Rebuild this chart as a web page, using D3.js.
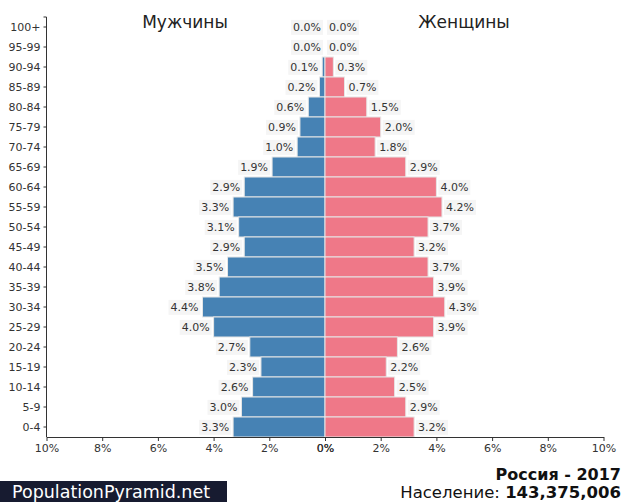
<!DOCTYPE html>
<html><head><meta charset="utf-8">
<script src="https://cdn.jsdelivr.net/npm/d3@7"></script>
<style>
body{margin:0;background:#fff;}
svg{display:block;font-family:"DejaVu Sans",sans-serif;}
</style></head>
<body>
<script>
const ageGroups = ["100+","95-99","90-94","85-89","80-84","75-79","70-74","65-69","60-64","55-59","50-54","45-49","40-44","35-39","30-34","25-29","20-24","15-19","10-14","5-9","0-4"];
const male =   [0.0,0.0,0.1,0.2,0.6,0.9,1.0,1.9,2.9,3.3,3.1,2.9,3.5,3.8,4.4,4.0,2.7,2.3,2.6,3.0,3.3];
const female = [0.0,0.0,0.3,0.7,1.5,2.0,1.8,2.9,4.0,4.2,3.7,3.2,3.7,3.9,4.3,3.9,2.6,2.2,2.5,2.9,3.2];
const xTicks = [10,8,6,4,2,0];
const titleMale = "Мужчины", titleFemale = "Женщины";
const country = "Россия - 2017";
const popLabel = "Население: ", popValue = "143,375,006";
const brand = "PopulationPyramid.net";

(function(){
const W = 624, H = 502;
const svg = d3.select("body").append("svg").attr("width", W).attr("height", H);

const cx = 325, pLeft = 46.5, pRight = 603.5, pTop = 17, pBottom = 437;
const xL = d3.scaleLinear().domain([10,0]).range([pLeft,cx]);
const xR = d3.scaleLinear().domain([0,10]).range([cx,pRight]);
const y = d3.scaleBand().domain(ageGroups).range([pTop,pBottom]).padding(0);

const mal = male.map((v,i)=>({age:ageGroups[i],v}));
const fem = female.map((v,i)=>({age:ageGroups[i],v}));

svg.append("g").selectAll("rect").data(mal).join("rect")
  .attr("x", d=>xL(d.v)).attr("width", d=>cx-xL(d.v))
  .attr("y", d=>y(d.age)).attr("height", y.bandwidth())
  .attr("fill","#4682b4").attr("stroke","#e6e6e6").attr("stroke-width",1);
svg.append("g").selectAll("rect").data(fem).join("rect")
  .attr("x", cx).attr("width", d=>xR(d.v)-cx)
  .attr("y", d=>y(d.age)).attr("height", y.bandwidth())
  .attr("fill","#ef7888").attr("stroke","#e6e6e6").attr("stroke-width",1);

function labels(data, scale, side){
  const g = svg.append("g").attr("font-size",11);
  data.forEach(d=>{
    const t = d.v.toFixed(1)+"%";
    const xe = side<0 ? scale(d.v)-4 : scale(d.v)+4;
    const yc = y(d.age)+y.bandwidth()/2;
    const tx = g.append("text").attr("x",xe).attr("y",yc).attr("dy","0.35em")
      .attr("text-anchor", side<0?"end":"start").attr("fill","#333").text(t);
    const bb = tx.node().getBBox();
    g.insert("rect", () => tx.node()).attr("x",bb.x-2).attr("y",bb.y-1).attr("width",bb.width+4).attr("height",bb.height+2)
      .attr("fill","#f5f5f5");
  });
}
labels(mal, xL, -1);
labels(fem, xR, 1);

const ya = svg.append("g").attr("transform",`translate(${pLeft},0)`)
  .call(d3.axisLeft(y).tickSize(3).tickPadding(3));
ya.selectAll("text").attr("font-size",11).attr("fill","#333").attr("font-family","DejaVu Sans");
ya.select(".domain").attr("stroke","#333").attr("d",`M-3,${pTop}H0V${pBottom}`);
ya.selectAll("line").attr("stroke","#333");

function xAxis(scale){
  const a = svg.append("g").attr("transform",`translate(0,${pBottom})`)
    .call(d3.axisBottom(scale).tickValues(xTicks).tickFormat(d=>d+"%").tickSize(4).tickPadding(3).tickSizeOuter(0));
  a.selectAll("text").attr("font-size",11).attr("fill","#333").attr("font-family","DejaVu Sans");
  a.select(".domain").attr("stroke","#333");
  a.selectAll("line").attr("stroke","#333");
}
xAxis(xL); xAxis(xR);

svg.append("text").attr("x",185).attr("y",28).attr("text-anchor","middle").attr("font-size",17).attr("fill","#222").text(titleMale);
svg.append("text").attr("x",464).attr("y",28).attr("text-anchor","middle").attr("font-size",17).attr("fill","#222").text(titleFemale);

svg.append("rect").attr("x",0).attr("y",481).attr("width",227).attr("height",21).attr("fill","#171b30");
svg.append("text").attr("x",12).attr("y",498).attr("font-size",17.5).attr("fill","#fff").text(brand);
svg.append("text").attr("x",621).attr("y",480).attr("text-anchor","end").attr("font-size",16).attr("font-weight","bold").attr("fill","#111").text(country);
const pt = svg.append("text").attr("x",621).attr("y",498).attr("text-anchor","end").attr("font-size",16.5).attr("fill","#111");
pt.append("tspan").text(popLabel);
pt.append("tspan").attr("font-weight","bold").text(popValue);
})();
</script>
</body></html>
